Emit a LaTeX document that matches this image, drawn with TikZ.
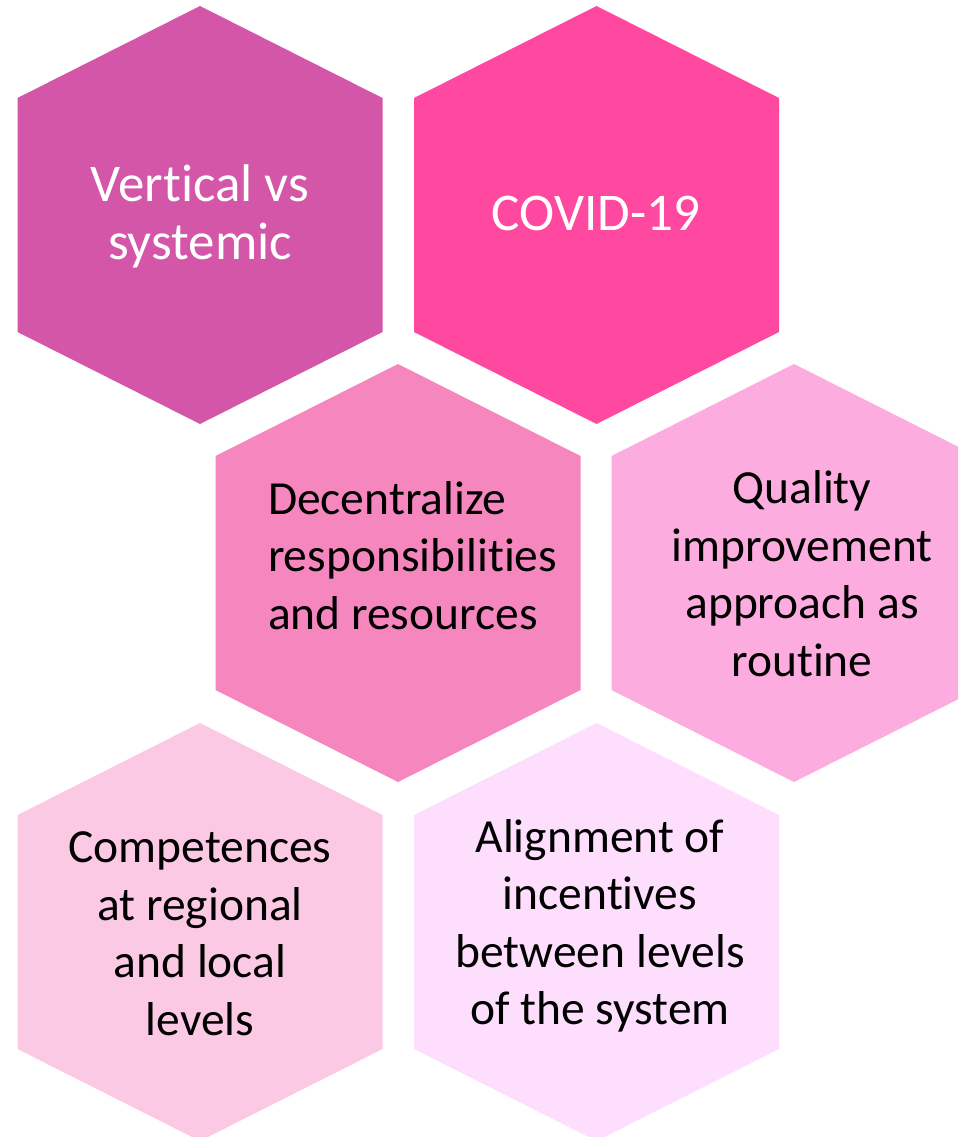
\documentclass[tikz,border=0pt]{standalone}
\usepackage{fontspec}
\setmainfont{Carlito}[RawFeature={-liga;-clig;-calt;-dlig}]
\definecolor{hexA}{HTML}{D456A8}
\definecolor{hexB}{HTML}{FF49A0}
\definecolor{hexC}{HTML}{F586BE}
\definecolor{hexD}{HTML}{FCACDE}
\definecolor{hexE}{HTML}{FCC9E4}
\definecolor{hexF}{HTML}{FDDEFD}
\begin{document}
\begin{tikzpicture}[x=1pt,y=-1pt,inner sep=0pt,outer sep=0pt,
pics/hexcell/.style={code={\fill[#1] (0,-209) -- (182.5,-117) -- (182.5,117) -- (0,209) -- (-182.5,117) -- (-182.5,-117) -- cycle;}},
toptext/.style={text=white,align=center,font=\fontsize{53}{58}\selectfont},
celltext/.style={text=black,align=center,font=\fontsize{47.5}{57.5}\selectfont}]
\useasboundingbox (0,0) rectangle (958,1137);
\clip (0,0) rectangle (958,1137);

\pic at (200,215) {hexcell=hexA};
\pic at (596.5,215) {hexcell=hexB};
\pic at (398,573) {hexcell=hexC};
\pic at (794,573) {hexcell=hexD};
\pic at (200,932) {hexcell=hexE};
\pic at (596.5,932) {hexcell=hexF};

\node[toptext] (vertical) at (200,216) {Vertical vs\\systemic};
\node[toptext] (covid) at (596,213) {COVID-19};
\node[celltext,align=left,anchor=west] (decentral) at (268,555.5) {Decentralize\\responsibilities\\and resources};
\node[celltext] (quality) at (802,573.5) {Quality\\improvement\\approach as\\routine};
\node[celltext] (competence) at (200,933.5) {Competences\\at regional\\and local\\levels};
\node[celltext] (alignment) at (600,926) {Alignment of\\incentives\\between levels\\of the system};
\end{tikzpicture}
\end{document}
